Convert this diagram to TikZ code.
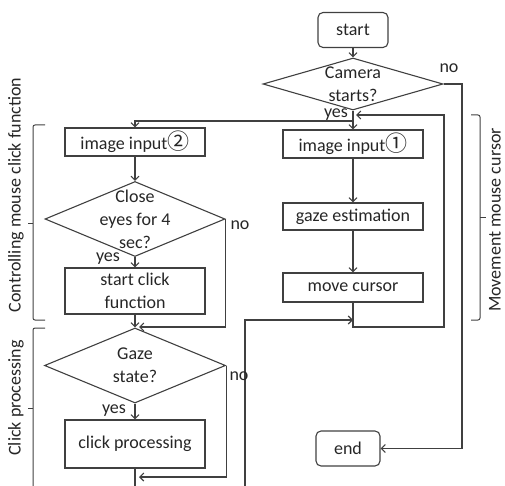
\documentclass[tikz,border=0pt]{standalone}
\usepackage{fontspec}
\setmainfont{Carlito}
\newfontfamily\cjkfont{Noto Sans CJK SC}
\usetikzlibrary{arrows.meta,shapes.geometric}
\definecolor{linecol}{HTML}{404040}
\definecolor{txtcol}{HTML}{262626}
\newcommand{\fs}{\fontsize{18}{23}\selectfont}
\newcommand{\circd}[1]{{\cjkfont\fontsize{22}{23}\selectfont #1}}
\begin{document}
\begin{tikzpicture}[x=1pt,y=-1pt,
  ln/.style={draw=linecol,line width=1.1pt},
  arr/.style={ln,-{Straight Barb[length=4pt,width=8pt]}},
  box/.style={ln,rectangle,minimum width=140,minimum height=28,inner sep=0,text=txtcol,align=center,font=\fs},
  rbox/.style={box,rounded corners=5pt},
  dia/.style={ln,diamond,inner sep=0},
  lbl/.style={text=txtcol,align=center,font=\fs,inner sep=0},
  brk/.style={ln,line width=1pt,rounded corners=2pt},
  side/.style={text=txtcol,font=\fs,rotate=90,inner sep=0}]
\useasboundingbox (0,0) rectangle (505,486);
% right column
\node[rbox,minimum width=70,minimum height=35] (start) at (353,30) {start};
\node[dia,minimum width=180,minimum height=52,label={[lbl]center:Camera\\starts?}] (cam) at (353,84) {};
\node[box] (img1) at (353,144) {image input\circd{①}};
\node[box,minimum height=27] (gest) at (353,216.5) {gaze estimation};
\node[box,minimum height=29] (move) at (353,287.5) {move cursor};
\node[rbox,minimum width=64,minimum height=35] (end) at (348,448.5) {end};
% left column
\node[box] (img2) at (135,142) {image input\circd{②}};
\node[dia,minimum width=180,minimum height=75,label={[lbl]center:Close\\eyes for 4\\sec?}] (close) at (135,219) {};
\node[box,minimum height=46] (sclick) at (135,291) {start click\\function};
\node[dia,minimum width=181,minimum height=75,label={[lbl]center:Gaze\\state?}] (gst) at (135,365.5) {};
\node[box,minimum height=48] (cproc) at (135,444) {click processing};
% coordinates
\coordinate (j0) at (353,121);
\coordinate (lp1) at (444,327);
\coordinate (lp2) at (356,115);
\coordinate (nc) at (462,84);
\coordinate (j1) at (139,327);
\coordinate (j2) at (139,477);
\coordinate (bot) at (135,490);
\coordinate (lv) at (245,490);
\coordinate (j3) at (353,320);
% connectors
\draw[arr] (start) -- (cam);
\draw[arr] (cam.south) -- (img1.north);
\draw[arr] (j0) -| (img2.north);
\draw[arr] (img1) -- (gest);
\draw[arr] (gest) -- (move);
\draw[arr] (move.south) |- (lp1) |- (lp2);
\draw[arr] (cam.east) -- (nc) |- (end.east);
\draw[arr] (img2) -- (close);
\draw[arr] (close.south) -- (sclick.north);
\draw[arr] (sclick.south) -- (gst.north);
\draw[arr] (close.east) |- (j1);
\draw[arr] (gst.south) -- (cproc.north);
\draw[arr] (gst.east) |- (j2);
\draw[ln] (cproc.south) -- (bot);
\draw[arr] (lv) |- (j3);
% yes / no labels
\node[lbl] (y1) at (336,115) {yes};
\node[lbl] (n1) at (449,68) {no};
\node[lbl] (n2) at (240,225) {no};
\node[lbl] (y2) at (108,259) {yes};
\node[lbl] (n3) at (239,376) {no};
\node[lbl] (y3) at (114,411) {yes};
% brackets
\draw[brk] (45,125) -- (33,125) -- (33,320) -- (45,320);
\draw[ln,line width=1pt] (33,223) -- (28,223);
\draw[brk] (45,328) -- (33,328) -- (33,495);
\draw[ln,line width=1pt] (33,408) -- (28,408);
\draw[brk] (471,115) -- (480,115) -- (480,320) -- (471,320);
\draw[ln,line width=1pt] (480,217) -- (486,217);
\node[side] (s1) at (16,195) {Controlling mouse click function};
\node[side] (s2) at (16,398) {Click processing};
\node[side] (s3) at (495,220) {Movement mouse cursor};
\end{tikzpicture}
\end{document}
